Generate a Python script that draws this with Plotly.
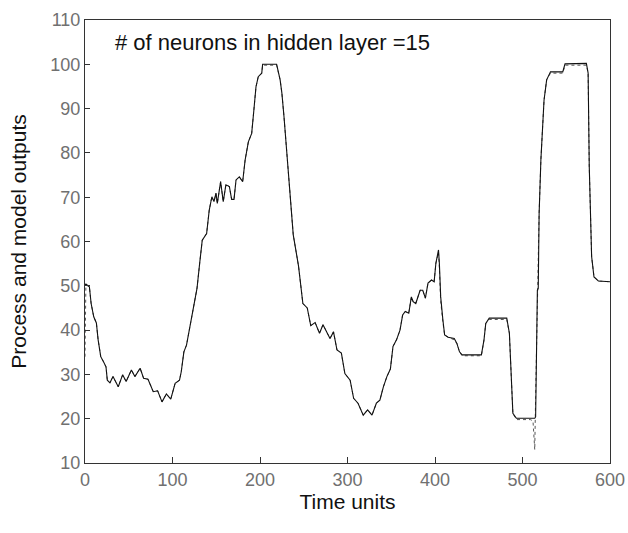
import plotly.graph_objects as go

# time grid
t = [0, 1, 5, 7, 10, 13, 15, 18, 21, 24, 25.5, 28.5, 32, 38, 43, 47, 53, 57, 63, 67,
     72, 78, 83, 88, 93, 98, 103, 108, 110, 113, 116, 119, 124, 128, 131, 134, 139, 142, 145, 147.4,
     149.7, 151.2, 155, 158, 161, 165, 167.6, 170.3, 172.6, 176.4, 180.2, 183, 186.7, 190.5, 193, 195.4, 198, 202, 203, 219,
     223, 225, 227.4, 230.5, 233.5, 238, 244, 249, 254, 258, 263, 268, 272, 276, 280, 284, 288, 293, 297, 303,
     307, 312, 318, 323, 328, 333, 337, 341, 345, 349, 352, 356, 360, 363, 366, 370, 373, 375, 378, 383,
     386, 389, 392, 396, 399, 401, 403, 404, 405, 406.5, 409, 411, 415, 422, 425, 428, 431, 453, 456, 458,
     462, 482, 485, 486.5, 489, 493, 509, 512, 514, 515, 517, 518, 519, 521, 523, 524.6, 527.6, 532, 546, 548.6,
     573, 575, 576.3, 578, 579, 581.7, 586.7, 600]

process = [50.2, 50.4, 49.8, 46, 43, 41.6, 37.8, 34, 32.9, 31.7, 28.7, 28.1, 29.5, 27.2, 29.9, 28.4, 31, 29.5, 31.4, 29.1,
           28.9, 26.1, 26.3, 23.8, 25.6, 24.4, 28, 28.7, 30.6, 35.1, 36.6, 40, 45, 49.4, 55, 60.3, 61.8, 67.1, 70.1, 69,
           70.9, 68.6, 73.5, 69, 72.8, 72.4, 69.5, 69.5, 73.9, 74.6, 73.5, 78.4, 82.5, 84.4, 89.7, 94.9, 97.2, 98, 100, 100,
           96.5, 93.5, 88.2, 80, 73.1, 61.5, 54.5, 46, 45, 41, 41.7, 39.3, 41.2, 39.6, 38.1, 39.6, 35.5, 34.8, 30.2, 28.7,
           24.6, 23.5, 20.8, 22, 20.8, 23.5, 24.2, 27.2, 29.5, 31.2, 36.3, 37.8, 40, 43.4, 44.2, 43.8, 47.5, 46.4, 46, 49,
           49, 47.2, 50.6, 51.3, 50.9, 55.1, 57, 58.1, 55, 47.5, 42.3, 38.9, 38.4, 38.1, 37, 35.1, 34.4, 34.4, 37.8, 41.5,
           42.7, 42.7, 39.3, 31, 21.2, 20.1, 20.1, 20.1, 20.1, 20.4, 49, 49.4, 66.4, 78.4, 85.9, 91.9, 96.5, 98.3, 98.3, 100.1,
           100.2, 98, 76.9, 64.9, 56.6, 52, 51.1, 50.9]

model = [34, 50.2, 49.8, 46, 43, 41.6, 37.8, 34, 32.9, 31.7, 28.7, 28.1, 29.5, 27.2, 29.9, 28.4, 31, 29.5, 31.4, 29.1,
         28.9, 26.1, 26.3, 23.8, 25.6, 24.4, 28, 28.7, 30.6, 35.1, 36.6, 40, 45, 49.4, 55, 60.3, 61.8, 67.1, 70.1, 69,
         70.9, 68.6, 73.5, 69, 72.8, 72.4, 69.5, 69.5, 73.9, 74.6, 73.5, 78.4, 82.5, 84.4, 89.7, 94.9, 97.2, 98, 99.8, 99.8,
         96.5, 93.5, 88.2, 80, 73.1, 61.5, 54.5, 46, 45, 41, 41.7, 39.3, 41.2, 39.6, 38.1, 39.6, 35.5, 34.8, 30.2, 28.7,
         24.6, 23.5, 20.8, 22, 20.8, 23.5, 24.2, 27.2, 29.5, 31.2, 36.3, 37.8, 40, 43.4, 44.2, 43.8, 47.5, 46.4, 46, 49,
         49, 47.2, 50.6, 51.3, 50.9, 55.1, 57, 57.5, 54, 46.5, 41.8, 38.9, 38.4, 37.8, 37, 35.1, 34.2, 34.2, 37.8, 41.5,
         42.4, 42.4, 39.3, 31, 21.2, 19.8, 19.8, 19.5, 13, 25, 47, 49.4, 66.4, 78.4, 85.9, 91.9, 96.5, 98, 98, 99.8,
         99.8, 98, 76.9, 64.9, 56.6, 52, 51.1, 50.9]

x_ticks = [0, 100, 200, 300, 400, 500, 600]
y_ticks = [10, 20, 30, 40, 50, 60, 70, 80, 90, 100, 110]

fig = go.Figure()
fig.add_trace(go.Scatter(x=t, y=model, mode='lines', name='Model',
                         line=dict(color='#555555', width=1, dash='dot')))
fig.add_trace(go.Scatter(x=t, y=process, mode='lines', name='Process',
                         line=dict(color='#111111', width=1.1)))

axis_font = dict(family='Liberation Sans, Arial, sans-serif', size=18, color='#707070')
title_font = dict(family='Liberation Sans, Arial, sans-serif', size=21, color='#111111')

fig.update_layout(
    width=628, height=533,
    margin=dict(l=85, r=18, t=20, b=70),
    paper_bgcolor='white', plot_bgcolor='white',
    showlegend=False,
    annotations=[dict(text='# of neurons in hidden layer =15', x=0.053, y=0.95,
                      xref='paper', yref='paper', xanchor='left', yanchor='middle',
                      showarrow=False, font=dict(family='Liberation Sans, Arial, sans-serif',
                                                 size=22, color='#111111'))],
)
fig.update_xaxes(range=[0, 600], tickvals=x_ticks, showgrid=False, zeroline=False,
                 showline=True, linecolor='#333333', linewidth=1, mirror=True,
                 ticks='inside', ticklen=6, tickcolor='#333333', automargin=False,
                 ticklabeloverflow='allow',
                 tickfont=axis_font, title=dict(text='Time units', font=title_font, standoff=0))
fig.update_yaxes(range=[10, 110], tickvals=y_ticks, showgrid=False, zeroline=False,
                 showline=True, linecolor='#333333', linewidth=1, mirror=True,
                 ticks='inside', ticklen=5, tickcolor='#333333', automargin=False,
                 tickfont=axis_font, title=dict(text='Process and model outputs', font=title_font, standoff=18))

# drop the default 8px body margin so the figure fills the window
fig.write_html("out.html", config={'displayModeBar': False},
               post_script="document.body.style.margin='0';")
